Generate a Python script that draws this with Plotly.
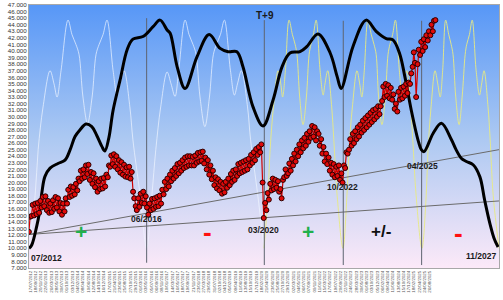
import base64
import pandas as pd
import plotly.graph_objects as go

# ---------------- data ----------------
# price, semi-monthly samples (1st / 15th), Jul 2012 .. Nov 2025 (band upper/lower readings)
price_2012 = [12.5, 14.8, 14.9, 16.6, 15.0, 16.8, 15.2, 16.9, 15.4, 17.2, 16.2, 17.8]
price_2013 = [16.4, 17.9, 15.8, 17.2, 15.4, 16.8, 15.5, 17.3, 16.0, 17.8, 16.2, 17.6,
              15.6, 16.9, 15.1, 16.8, 15.6, 17.6, 16.8, 18.9, 17.8, 19.4, 18.0, 19.3]
price_2014 = [18.2, 19.8, 18.8, 20.6, 20.2, 21.8, 20.6, 22.0, 20.8, 22.6, 21.3, 22.7,
              20.4, 21.6, 19.8, 21.4, 19.3, 20.6, 18.6, 20.2, 19.0, 20.6, 19.1, 20.7]
price_2015 = [19.4, 21.2, 20.8, 22.6, 22.4, 24.1, 22.8, 24.3, 22.4, 24.0, 22.0, 23.4,
              21.5, 23.1, 21.2, 22.7, 20.9, 22.3, 20.8, 22.4, 20.6, 21.6, 18.6, 17.6]
price_2016 = [16.4, 15.8, 17.6, 16.3, 18.3, 16.9, 18.6, 16.8, 17.9, 16.2, 15.1, 16.8,
              15.8, 17.5, 16.0, 17.6, 16.3, 17.8, 16.4, 18.0, 16.8, 18.9, 18.2, 20.1]
price_2017 = [19.0, 20.6, 19.4, 21.2, 20.2, 21.8, 20.6, 22.2, 21.0, 22.8, 21.4, 23.0,
              21.8, 23.4, 22.2, 23.8, 22.4, 24.0, 22.6, 24.0, 22.6, 23.9, 22.6, 24.1]
price_2018 = [23.0, 24.5, 23.2, 24.6, 23.3, 24.7, 22.9, 23.8, 22.0, 23.4, 21.2, 22.6,
              20.5, 21.8, 19.6, 20.8, 19.1, 20.5, 18.8, 20.1, 18.3, 19.8, 18.5, 20.1]
price_2019 = [19.2, 20.6, 19.6, 21.3, 20.1, 21.8, 20.4, 22.0, 21.0, 22.8, 21.4, 23.0,
              21.6, 23.2, 21.8, 23.4, 22.0, 23.6, 22.6, 24.2, 23.0, 24.6, 23.4, 25.1]
price_2020 = [24.2, 25.4, 24.6, 25.8, 20.0, 14.6, 16.9, 15.8, 18.4, 17.4, 19.8, 18.8,
              20.6, 19.0, 20.4, 19.2, 20.2, 18.6, 19.0, 17.6, 20.4, 20.8, 22.0, 21.0]
price_2021 = [21.4, 22.9, 21.8, 23.6, 22.6, 24.4, 23.2, 25.0, 24.0, 25.8, 24.6, 26.4,
              25.2, 26.8, 25.6, 27.4, 26.2, 27.8, 26.8, 28.6, 27.0, 28.4, 26.4, 27.8]
price_2022 = [27.4, 25.6, 26.6, 24.4, 25.4, 23.2, 24.4, 22.8, 23.8, 21.8, 23.0, 21.2,
              22.8, 20.8, 22.4, 21.0, 22.6, 20.4, 21.4, 20.0, 22.6, 22.2, 24.6, 24.4]
price_2023 = [25.0, 26.6, 25.6, 27.4, 26.0, 27.8, 26.6, 28.4, 27.0, 28.8, 27.6, 29.4,
              28.0, 29.8, 28.4, 30.2, 28.8, 30.6, 29.2, 31.0, 29.6, 31.2, 30.0, 31.6]
price_2024 = [30.4, 31.6, 32.4, 34.6, 33.0, 35.0, 33.2, 34.8, 32.8, 34.4, 32.6, 33.4,
              31.2, 32.0, 30.8, 33.8, 32.6, 34.4, 32.8, 34.6, 33.2, 35.0, 33.6, 35.2]
price_2025 = [35.0, 36.6, 37.6, 39.8, 38.2, 33.0, 38.0, 40.2, 39.4, 41.4, 40.0, 41.8,
              40.6, 42.4, 41.6, 43.0, 42.4, 44.0, 43.0, 44.6, 44.7]

# thick black projection curve (decimal year, value)
cycle_years = [2012.50, 2012.59, 2012.75, 2012.84, 2012.92, 2013.02, 2013.19, 2013.45, 2013.68,
               2013.85, 2014.01, 2014.17, 2014.37, 2014.56, 2014.72, 2014.89, 2014.99, 2015.12,
               2015.26, 2015.49, 2015.72, 2015.91, 2016.24, 2016.57, 2016.80, 2017.03, 2017.13,
               2017.36, 2017.62, 2018.01, 2018.41, 2018.77, 2019.03, 2019.32, 2019.52, 2019.85,
               2020.18, 2020.51, 2020.80, 2021.06, 2021.39, 2021.62, 2021.98, 2022.38, 2022.61,
               2022.74, 2023.13, 2023.56, 2023.89, 2024.22, 2024.44, 2024.66, 2024.83, 2025.04,
               2025.26, 2025.37, 2025.46, 2025.76, 2026.03, 2026.36, 2026.51, 2026.68, 2026.85,
               2027.07, 2027.29, 2027.45, 2027.62, 2027.76, 2027.89]
cycle_values = [10.0, 10.5, 13.3, 15.4, 18.4, 20.9, 22.2, 22.9, 23.4,
                25.0, 27.0, 28.0, 28.9, 28.5, 27.2, 25.5, 24.8, 26.8,
                31.0, 35.6, 40.2, 41.8, 42.2, 43.7, 44.7, 43.2, 42.7,
                37.6, 34.3, 39.1, 42.5, 40.4, 39.9, 39.9, 37.6, 31.5,
                28.6, 32.6, 37.6, 39.7, 39.9, 40.7, 42.6, 39.7, 36.1,
                34.3, 40.7, 44.7, 43.0, 41.9, 41.7, 39.6, 36.1, 31.0,
                26.5, 25.0, 24.7, 27.5, 29.0, 26.5, 25.0, 23.7, 23.2,
                22.7, 20.9, 17.3, 13.8, 11.5, 10.2]

# thin white cycle curve (until 03/2020)
white_years = [2012.50, 2012.70, 2012.80, 2012.96, 2013.19, 2013.32, 2013.42, 2013.55, 2013.78,
               2013.91, 2014.04, 2014.14, 2014.27, 2014.42, 2014.57, 2014.70, 2014.80, 2014.93,
               2015.06, 2015.26, 2015.39, 2015.49, 2015.62, 2015.81, 2015.91, 2016.14, 2016.36,
               2016.53, 2016.66, 2016.82, 2017.03, 2017.16, 2017.29, 2017.42, 2017.62, 2017.75,
               2017.88, 2017.98, 2018.11, 2018.27, 2018.42, 2018.55, 2018.65, 2018.78, 2018.91,
               2019.11, 2019.24, 2019.34, 2019.47, 2019.67, 2019.77, 2020.00, 2020.21]
white_values = [10.0, 18.0, 25.0, 31.5, 37.0, 35.0, 33.0, 37.0, 44.7,
                42.5, 41.0, 39.5, 33.0, 29.0, 33.0, 39.5, 41.0, 42.5,
                44.7, 37.0, 33.3, 35.0, 37.0, 31.5, 26.5, 18.3, 10.0,
                18.0, 25.0, 31.5, 36.8, 35.0, 33.1, 37.5, 44.7, 42.5,
                41.0, 39.5, 33.0, 28.5, 33.0, 39.5, 41.0, 42.5, 44.7,
                37.0, 33.3, 35.0, 37.0, 31.5, 26.5, 18.3, 10.0]

# thin yellow cycle curve (from 03/2020)
yellow_years = [2020.21, 2020.34, 2020.41, 2020.52, 2020.67, 2020.76, 2020.82, 2020.91, 2021.03,
                2021.14, 2021.23, 2021.29, 2021.38, 2021.49, 2021.60, 2021.69, 2021.75, 2021.83,
                2021.92, 2022.05, 2022.15, 2022.21, 2022.30, 2022.43, 2022.50, 2022.61, 2022.80,
                2022.93, 2023.00, 2023.11, 2023.26, 2023.35, 2023.42, 2023.50, 2023.62, 2023.73,
                2023.82, 2023.89, 2023.97, 2024.08, 2024.19, 2024.28, 2024.34, 2024.43, 2024.52,
                2024.65, 2024.74, 2024.80, 2024.89, 2025.02, 2025.09, 2025.20, 2025.39,
                2025.53, 2025.59, 2025.69, 2025.82, 2025.91, 2025.99, 2026.07, 2026.17, 2026.27,
                2026.35, 2026.41, 2026.50, 2026.61, 2026.71, 2026.81, 2026.86, 2026.95, 2027.04,
                2027.17, 2027.28, 2027.35, 2027.43, 2027.56, 2027.63, 2027.73, 2027.92]
yellow_values = [10.0, 18.0, 25.0, 31.5, 37.0, 35.0, 33.0, 37.0, 44.7,
                 42.5, 41.0, 39.5, 33.0, 28.8, 33.0, 39.5, 41.0, 42.5,
                 44.7, 37.0, 33.3, 35.0, 37.0, 31.5, 26.5, 18.0, 10.0,
                 18.0, 25.0, 31.5, 37.0, 35.0, 33.0, 37.0, 44.7, 42.5,
                 41.0, 39.5, 33.0, 28.8, 33.0, 39.5, 41.0, 42.5, 44.7,
                 37.0, 33.3, 35.0, 37.0, 31.5, 26.5, 18.0, 10.0,
                 18.0, 25.0, 31.5, 37.0, 35.0, 33.0, 37.0, 44.7, 42.5,
                 41.0, 39.5, 33.0, 28.8, 33.0, 39.5, 41.0, 42.5, 44.7,
                 37.0, 33.3, 35.0, 37.0, 31.5, 26.5, 18.0, 10.0]

# trend lines
trend_years = [2012.50, 2027.92]
trend_upper = [12.1, 25.0]
trend_lower = [12.1, 17.2]

# cycle-low vertical markers
event_years = [2016.36, 2020.22, 2022.81, 2025.38]
event_low = [7.8, 7.45, 7.45, 7.45]
event_high = [45.0, 44.7, 44.6, 44.6]

# text labels
label_texts = ["07/2012", "06/2016", "03/2020", "10/2022", "04/2025", "11/2027", "T+9",
               "+", "-", "+", "+/-", "-"]
label_years = [2012.50, 2016.37, 2020.19, 2022.77, 2025.41, 2027.92, 2020.24,
               2014.22, 2018.34, 2021.64, 2024.05, 2026.58]
label_values = [8.55, 14.38, 12.78, 19.32, 22.44, 8.75, 45.33,
                12.48, 12.55, 12.48, 12.48, 12.28]
label_colors = ["#1a1a1a"] * 7 + ["#1fb04c", "#ff1010", "#1fb04c", "#111111", "#ff1010"]
label_sizes = [8.5, 8.5, 8.5, 8.5, 8.5, 8.5, 10, 21, 26, 21, 17, 26]
label_anchor = ["left", "center", "center", "center", "center", "right", "center",
                "center", "center", "center", "center", "center"]

y_ticks = list(range(7, 48))
y_ticklabels = [f"{v}.000" for v in y_ticks]


def dec2date(y):
    yr = int(y)
    s = pd.Timestamp(yr, 1, 1)
    e = pd.Timestamp(yr + 1, 1, 1)
    return s + (e - s) * (y - yr)


price_values = (price_2012 + price_2013 + price_2014 + price_2015 + price_2016 + price_2017 +
                price_2018 + price_2019 + price_2020 + price_2021 + price_2022 + price_2023 +
                price_2024 + price_2025)
price_dates = pd.date_range("2012-07-01", periods=len(price_values), freq="SMS")

x_tick_dates = pd.date_range("2012-07-17", "2025-10-01", freq="63D")
x_tick_text = [d.strftime("%d/%m/%Y") for d in x_tick_dates]

fig = go.Figure()

fig.add_trace(go.Scatter(x=[dec2date(v) for v in white_years], y=white_values, mode="lines",
                         line=dict(color="rgba(240,245,255,0.7)", width=1, shape="spline",
                                   smoothing=1.0), hoverinfo="skip"))
fig.add_trace(go.Scatter(x=[dec2date(v) for v in yellow_years], y=yellow_values, mode="lines",
                         line=dict(color="rgba(232,234,130,0.9)", width=1, shape="spline",
                                   smoothing=1.0), hoverinfo="skip"))

for tv in (trend_upper, trend_lower):
    fig.add_trace(go.Scatter(x=[dec2date(v) for v in trend_years], y=tv, mode="lines",
                             line=dict(color="#6b6b6b", width=1), hoverinfo="skip"))

vx, vy = [], []
for yr, lo, hi in zip(event_years, event_low, event_high):
    d = dec2date(yr)
    vx += [d, d, None]
    vy += [lo, hi, None]
fig.add_trace(go.Scatter(x=vx, y=vy, mode="lines", line=dict(color="#5e6470", width=1),
                         hoverinfo="skip"))

fig.add_trace(go.Scatter(x=[dec2date(v) for v in cycle_years], y=cycle_values, mode="lines",
                         line=dict(color="black", width=3, shape="spline", smoothing=1.0),
                         hoverinfo="skip"))

fig.add_trace(go.Scatter(x=price_dates, y=price_values, mode="lines+markers",
                         line=dict(color="#d00000", width=1.2),
                         marker=dict(size=5, color="#e00a0a",
                                     line=dict(color="#2a0000", width=1))))

for t, yr, v, c, s, a in zip(label_texts, label_years, label_values, label_colors,
                             label_sizes, label_anchor):
    fig.add_annotation(x=dec2date(yr), y=v, text=t, showarrow=False, xanchor=a,
                       yanchor="middle",
                       font=dict(family="Liberation Sans", size=s, color=c, weight="bold"))

svg = ('<svg xmlns="http://www.w3.org/2000/svg" width="10" height="100" viewBox="0 0 10 100" '
       'preserveAspectRatio="none"><defs><linearGradient id="g" x1="0" y1="0" x2="0" y2="1">'
       '<stop offset="0" stop-color="#5797f7"/><stop offset="0.5" stop-color="#abc8f2"/>'
       '<stop offset="1" stop-color="#fce9f8"/></linearGradient></defs>'
       '<rect width="10" height="100" fill="url(#g)"/></svg>')
uri = "data:image/svg+xml;base64," + base64.b64encode(svg.encode()).decode()
fig.add_layout_image(dict(source=uri, xref="paper", yref="paper", x=0, y=1, sizex=1, sizey=1,
                          sizing="stretch", layer="below", xanchor="left", yanchor="top"))

fig.update_layout(
    width=503, height=300,
    margin=dict(l=29, r=4, t=5, b=32),
    paper_bgcolor="white", plot_bgcolor="white",
    showlegend=False,
    font=dict(family="Liberation Sans", color="#333333"),
)
fig.update_xaxes(type="date", range=[dec2date(2012.5), dec2date(2027.92)],
                 tickmode="array", tickvals=list(x_tick_dates), ticktext=x_tick_text,
                 tickangle=-90, tickfont=dict(size=4.4, color="#555555"),
                 showgrid=False, zeroline=False, showline=True, linecolor="#a8a8a8",
                 linewidth=1, mirror=True, ticks="", automargin=False)
fig.update_yaxes(range=[7, 47], tickmode="array", tickvals=y_ticks, ticktext=y_ticklabels,
                 tickfont=dict(size=6.2, color="#333333"), showgrid=False, zeroline=False,
                 showline=True, linecolor="#a8a8a8", linewidth=1, mirror=True, ticks="",
                 automargin=False)

fig.write_html("out.html")
